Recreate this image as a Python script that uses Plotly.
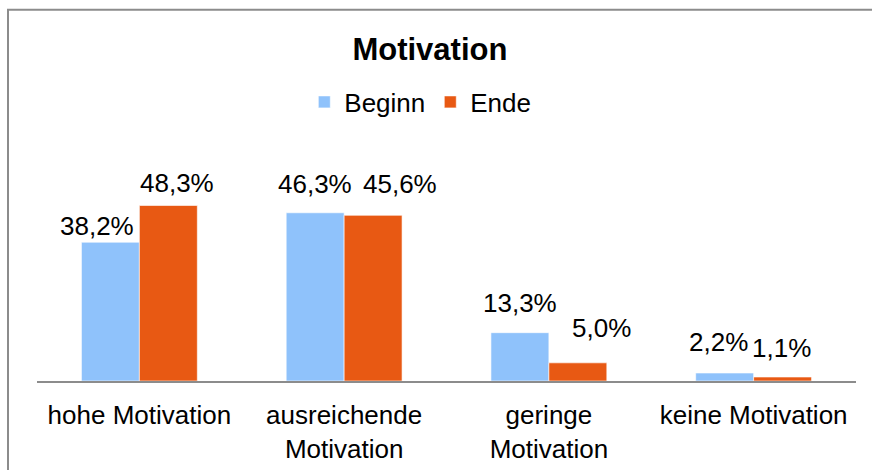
import plotly.graph_objects as go

categories = ["hohe Motivation", "ausreichende<br>Motivation", "geringe<br>Motivation", "keine Motivation"]
series_names = ["Beginn", "Ende"]
beginn = [38.2, 46.3, 13.3, 2.2]
ende = [48.3, 45.6, 5.0, 1.1]

colors = ["#8FC2FB", "#E85913"]
FONT = "Liberation Sans, Arial, sans-serif"
FS = 26

# label pixel offsets (style only): (dx, dy) per series/category
label_dx = [[-13, 0, 0, -6], [9, 27, 24, -1]]
label_gap = [[5, 18, 19, 20], [12, 20, 24, 18]]

fig = go.Figure()
for name, vals, col in zip(series_names, [beginn, ende], colors):
    fig.add_trace(go.Bar(name=name, x=categories, y=vals, marker_color=col,
                         marker_line_color="rgba(255,255,255,0.6)", marker_line_width=1))

annotations = []
for si, vals in enumerate([beginn, ende]):
    side = -29 if si == 0 else 29
    for ci, v in enumerate(vals):
        annotations.append(dict(
            x=categories[ci], y=v, xref="x", yref="y",
            text=f"{v:.1f}".replace(".", ",") + "%",
            showarrow=False, yanchor="bottom", xanchor="center",
            xshift=side + label_dx[si][ci], yshift=label_gap[si][ci] - 6,
            font=dict(family=FONT, size=FS, color="#000000")))

# outer chart border (top/left visible)
x0p = (8 - 37) / 819
y1p = (381 - 10) / 217.8
shapes = [dict(type="rect", xref="paper", yref="paper", x0=x0p, x1=1.2, y0=-1.0, y1=y1p,
               line=dict(color="#8C8C8C", width=2), fillcolor="rgba(0,0,0,0)", layer="below")]

fig.update_layout(
    width=872, height=470,
    margin=dict(l=37, r=16, t=163, b=89),
    paper_bgcolor="white", plot_bgcolor="white",
    barmode="group", bargap=0.434, bargroupgap=0,
    title=dict(text="<b>Motivation</b>", x=0.493, xanchor="center", y=1 - 49 / 470, yanchor="middle",
               yref="container", xref="container",
               font=dict(family=FONT, size=31, color="#000000")),
    legend=dict(orientation="h", x=0.482, xanchor="center", y=1 - 102 / 470, yanchor="middle",
                xref="container", yref="container",
                font=dict(family=FONT, size=FS, color="#000000"), itemwidth=30,
                bgcolor="rgba(0,0,0,0)"),
    xaxis=dict(showline=True, linecolor="#8C8C8C", linewidth=2, ticks="", showgrid=False,
               ticklabelstandoff=10, automargin=False,
               tickfont=dict(family=FONT, size=FS, color="#000000")),
    yaxis=dict(range=[0, 60], showgrid=False, showticklabels=False, zeroline=False, showline=False,
               automargin=False),
    annotations=annotations,
    shapes=shapes,
    font=dict(family=FONT),
)

fig.write_html("out.html", config={"displayModeBar": False},
               post_script="document.body.style.margin='0';")
